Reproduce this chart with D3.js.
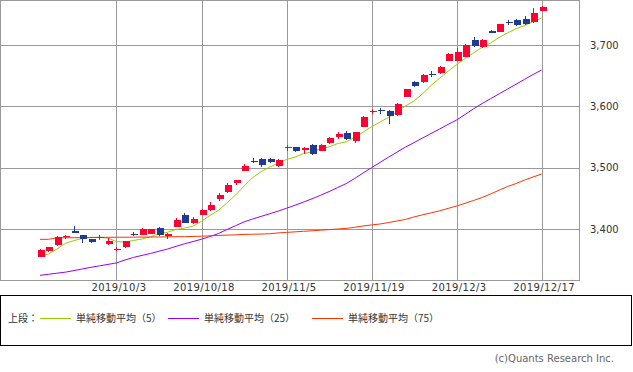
<!DOCTYPE html>
<html>
<head>
<meta charset="utf-8">
<script src="https://cdn.jsdelivr.net/npm/d3@7"></script>
<style>
  body { margin:0; background:#fff; }
  text { font-family:"DejaVu Sans", sans-serif; }
  .jp { font-family:"Noto Sans CJK JP", sans-serif; }
</style>
</head>
<body>
<div id="canvas"></div>
<script>
// trading days shown on the chart
var dates = ['2019/9/19','2019/9/20','2019/9/24','2019/9/25','2019/9/26','2019/9/27','2019/9/30','2019/10/1','2019/10/2','2019/10/3',
  '2019/10/4','2019/10/7','2019/10/8','2019/10/9','2019/10/10','2019/10/11','2019/10/15','2019/10/16','2019/10/17','2019/10/18',
  '2019/10/21','2019/10/23','2019/10/24','2019/10/25','2019/10/28','2019/10/29','2019/10/30','2019/10/31','2019/11/1','2019/11/5',
  '2019/11/6','2019/11/7','2019/11/8','2019/11/11','2019/11/12','2019/11/13','2019/11/14','2019/11/15','2019/11/18','2019/11/19',
  '2019/11/20','2019/11/21','2019/11/22','2019/11/25','2019/11/26','2019/11/27','2019/11/28','2019/11/29','2019/12/2','2019/12/3',
  '2019/12/4','2019/12/5','2019/12/6','2019/12/9','2019/12/10','2019/12/11','2019/12/12','2019/12/13','2019/12/16','2019/12/17'];

var open  = [3355,3364,3374,3388,3397,3390,3383,3386,3376,3366.5, 3370,3392,3391,3392,3401,3389,3404,3423,3410,3423,
             3431,3449,3460,3474.5,3495,3511,3514,3514,3503,3532, 3534,3529,3537,3528,3540,3550,3557,3544,3567,3590,
             3594,3592,3586,3616,3639,3639,3653.5,3655,3674.5,3674.5, 3681,3709,3696,3723,3722,3738,3740,3742,3738,3755];
var high  = [3368,3371,3388,3391,3405,3391,3384,3390,3385,3371, 3381,3395,3401,3400,3403,3394,3418,3426,3420,3432,
             3444,3458,3475,3480,3506,3515,3515,3515,3514,3537, 3534.5,3533,3539,3538,3550,3558.7,3560,3559,3585,3596,
             3598,3594,3605,3629,3641,3652,3657,3666,3687,3695.6, 3701,3713,3710,3724.5,3735,3741,3742,3747,3760,3763];
var low   = [3354,3363,3372,3383,3394,3378,3378,3382,3374.5,3364, 3369,3389,3390,3392,3388.5,3384,3403,3410,3409,3423,
             3430,3446,3459,3472,3494,3508,3501.6,3507,3501.6,3528, 3526,3522,3520.7,3527,3538.6,3546.7,3545.6,3541,3566,3587.5,
             3588,3571,3585,3616,3631.5,3638,3648,3653,3674,3674, 3680.4,3697.3,3695,3719,3721,3733,3731,3732.6,3736.4,3755];
var close = [3366,3370,3387,3389,3394,3384,3379,3387,3381,3367, 3380,3391.5,3399.5,3399.5,3391,3392,3415,3410,3416,3431,
             3439,3455.5,3472,3479.5,3503,3508.5,3504,3509,3512.5,3533, 3528,3532.5,3523,3537,3549,3555,3546,3558,3582,3593,
             3593,3585,3604,3628,3634,3651,3653,3663.5,3685,3688, 3700,3699,3709,3720,3734,3737,3733,3734,3753,3762.5];

// moving averages
var ma5  = [3354.9,3359.3,3367.4,3376.7,3381.2,3384.8,3386.6,3386.6,3385,3379.6, 3378.8,3381.3,3383.8,3387.5,3392.3,3394.7,3399.4,3401.5,3404.8,3412.8,
            3422.2,3430.3,3442.7,3455.4,3469.8,3483.7,3493.4,3500.8,3507.4,3513.4, 3517.3,3523,3525.8,3530.7,3533.9,3539.3,3542,3549,3558,3566.8,
            3574.4,3582.2,3591.4,3600.6,3608.8,3620.4,3634,3645.9,3657.3,3668.1, 3677.9,3687.1,3696.2,3703.2,3712.4,3719.8,3726.6,3731.6,3738.2,3743.9];
var ma25 = [3324.5,3326.2,3328.0,3329.7,3332.2,3335.0,3337.6,3340.0,3342.3,3344.8, 3349.5,3353.7,3357.0,3360.2,3363.8,3367.4,3371.8,3375.9,3379.6,3383.4,
            3387.8,3392.7,3399.2,3405.4,3411.6,3416.3,3420.6,3424.8,3429.1,3433.9, 3438.8,3444.0,3449.3,3455.0,3461.0,3467.5,3474.0,3482.3,3491.3,3500.0,
            3508.6,3517.2,3525.5,3533.7,3540.9,3548.4,3555.7,3563.0,3570.6,3577.7, 3586.7,3596.0,3604.6,3612.5,3620.4,3628.3,3636.1,3644.1,3651.9,3659.2];
var ma75 = [3383.2,3383.2,3385.8,3385.8,3385.8,3386.0,3386.1,3386.3,3386.5,3386.6, 3386.6,3386.8,3386.9,3386.9,3387.1,3387.3,3387.4,3387.6,3387.9,3388.3,
            3388.9,3389.6,3390.1,3390.5,3391.2,3391.5,3391.8,3392.3,3393.6,3394.5, 3395.4,3396.3,3397.1,3398.1,3399.0,3400.0,3401.0,3402.8,3404.9,3406.7,
            3408.2,3410.6,3413.1,3415.7,3419.7,3423.2,3426.3,3429.7,3433.6,3437.5, 3441.9,3446.6,3451.4,3457.1,3463.3,3469.3,3474.2,3479.9,3484.8,3489.7];

var yTicks = [3400,3500,3600,3700];
var labelEvery = 10;
var maNames = ['単純移動平均（5）','単純移動平均（25）','単純移動平均（75）'];
var maColors = ['#99cc00','#9900ff','#ff3300'];

var W = 633, H = 372;
var w = 579, h = 280;

var svg = d3.select('#canvas').append('svg')
    .attr('width', W).attr('height', H);

var plot = svg.append('g');

var x = d3.scaleLinear().domain([-4.7, 63.4]).range([0, w]);
var y = d3.scaleLinear().domain([3316.9, 3773.4]).range([h, 0]);

// gridlines + labels
var xTickIdx = d3.range(labelEvery - 1, dates.length, labelEvery);
var axisX = d3.axisBottom(x)
    .tickValues(xTickIdx)
    .tickFormat(function(i){ return dates[i]; })
    .tickSize(-h)
    .tickPadding(4);
var gx = plot.append('g').attr('transform','translate(0,' + h + ')').call(axisX);

var axisY = d3.axisRight(y)
    .tickValues(yTicks)
    .tickFormat(d3.format(','))
    .tickSize(-w)
    .tickPadding(11);
var gy = plot.append('g').attr('transform','translate(' + w + ',0)').call(axisY);

[gx, gy].forEach(function(g){
    g.select('.domain').remove();
    g.selectAll('line').attr('stroke','#999').attr('shape-rendering','crispEdges');
    g.selectAll('text').attr('fill','#333').style('font-size','10px').style('font-family','DejaVu Sans');
});
gx.selectAll('text').attr('dx', 2).style('letter-spacing','0.4px');

plot.append('rect')
    .attr('x',0.5).attr('y',0.5).attr('width',w).attr('height',h-0.5)
    .attr('fill','none').attr('stroke','#999').attr('shape-rendering','crispEdges');

// moving averages
var mas = [ma5, ma25, ma75];
var line = d3.line()
    .x(function(d,i){ return x(i); })
    .y(function(d){ return y(d); });

plot.selectAll('path.ma')
    .data(mas)
    .enter().append('path')
    .attr('class','ma')
    .attr('d', line)
    .attr('fill','none')
    .attr('stroke', function(d,i){ return maColors[i]; })
    .attr('stroke-width',1);

// candles
var candles = d3.range(dates.length).map(function(i){
    return {i:i, o:open[i], h:high[i], l:low[i], c:close[i]};
});
var up = '#ff0033', down = '#1f3a93';
var bw = 6;

var cg = plot.selectAll('g.candle')
    .data(candles)
    .enter().append('g')
    .attr('class','candle')
    .attr('fill', function(d){ return d.c >= d.o ? up : down; })
    .attr('stroke', function(d){ return d.c >= d.o ? up : down; });

cg.append('line')
    .attr('x1', function(d){ return Math.round(x(d.i)) + 0.5; })
    .attr('x2', function(d){ return Math.round(x(d.i)) + 0.5; })
    .attr('y1', function(d){ return y(d.h); })
    .attr('y2', function(d){ return y(d.l); })
    .attr('stroke-width',1)
    .attr('shape-rendering','crispEdges');

cg.append('rect')
    .attr('x', function(d){ return Math.round(x(d.i)) - bw/2 + 0.5; })
    .attr('y', function(d){ return y(Math.max(d.o,d.c)); })
    .attr('width', bw + 1)
    .attr('height', function(d){ return Math.max(1, y(Math.min(d.o,d.c)) - y(Math.max(d.o,d.c))); })
    .attr('stroke','none')
    .attr('shape-rendering','crispEdges');

// legend
var lg = svg.append('g');
lg.append('rect')
    .attr('x',0.5).attr('y',295.5).attr('width',631).attr('height',50)
    .attr('fill','none').attr('stroke','#000').attr('shape-rendering','crispEdges');
lg.append('text').attr('class','jp')
    .attr('x',8).attr('y',318).attr('dy','0.35em')
    .style('font-size','10px').attr('fill','#333')
    .text('上段：');

var legX = [40, 168, 312];
maNames.forEach(function(name,i){
    lg.append('line')
        .attr('x1', legX[i]).attr('x2', legX[i] + 31)
        .attr('y1', 318.5).attr('y2', 318.5)
        .attr('stroke', maColors[i]).attr('stroke-width',1);
    lg.append('text').attr('class','jp')
        .attr('x', legX[i] + 36).attr('y',318).attr('dy','0.35em')
        .style('font-size','10px').attr('fill','#333')
        .text(name);
});

svg.append('text')
    .attr('x',614).attr('y',358).attr('dy','0.35em')
    .attr('text-anchor','end')
    .style('font-size','10px').attr('fill','#666')
    .text('(c)Quants Research Inc.');
</script>
</body>
</html>
